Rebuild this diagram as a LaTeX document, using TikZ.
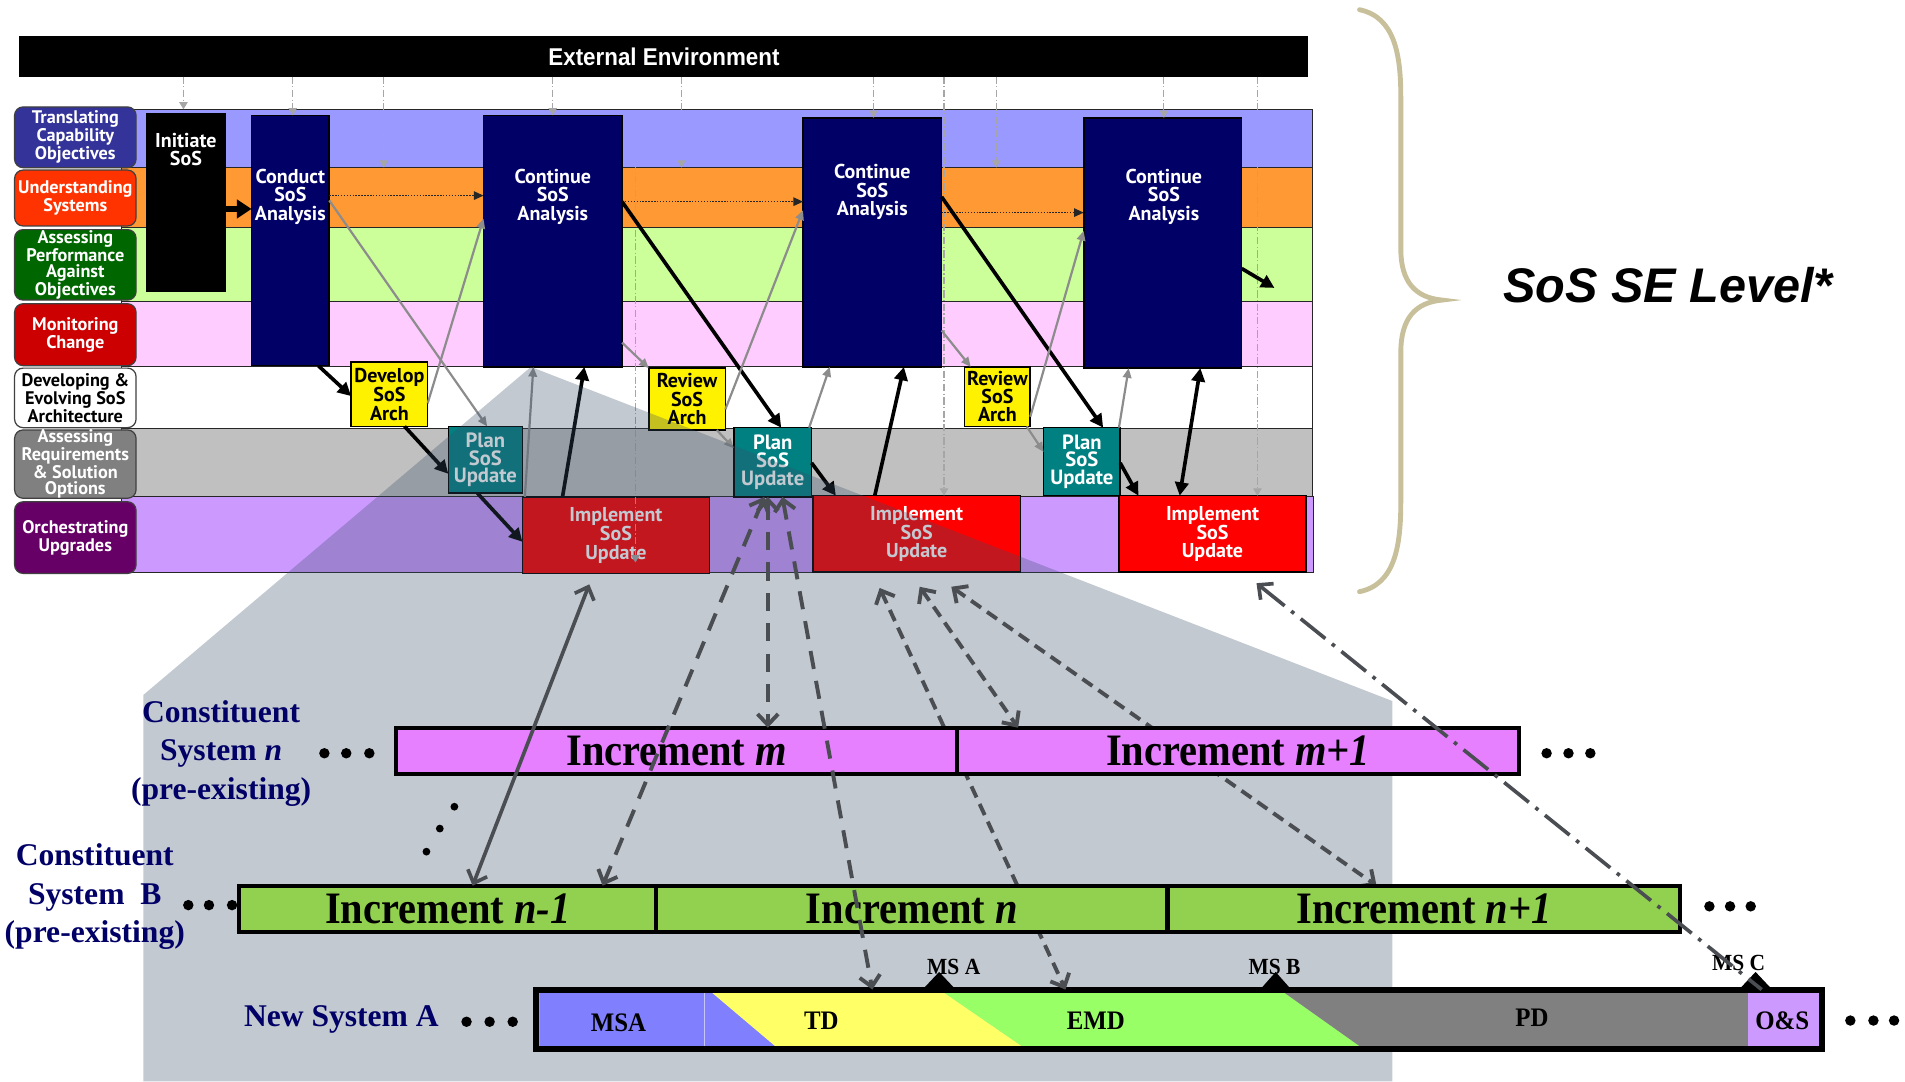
\documentclass[tikz,border=0pt]{standalone}
\usepackage{fontspec}
\usetikzlibrary{arrows.meta}
\newfontfamily\boxfont{PT Sans}
\newfontfamily\extfont[FakeStretch=0.92]{Liberation Sans}
\newfontfamily\levelfont{Liberation Sans}
\newfontfamily\sysfont{Liberation Serif}
\newfontfamily\incfont[FakeStretch=0.9]{Liberation Serif}
\newfontfamily\segfont[FakeStretch=0.93]{Liberation Serif}

\definecolor{laneA}{HTML}{9999FF}
\definecolor{laneB}{HTML}{FF9933}
\definecolor{laneC}{HTML}{CCFF99}
\definecolor{laneD}{HTML}{FFCCFF}
\definecolor{laneF}{HTML}{C0C0C0}
\definecolor{laneG}{HTML}{CC99FF}
\definecolor{labA}{HTML}{333399}
\definecolor{labB}{HTML}{FF3300}
\definecolor{labC}{HTML}{006600}
\definecolor{labD}{HTML}{CC0000}
\definecolor{labF}{HTML}{808080}
\definecolor{labG}{HTML}{660066}
\definecolor{navybox}{HTML}{000066}
\definecolor{tealbox}{HTML}{008080}
\definecolor{incpink}{HTML}{E680FF}
\definecolor{incgreen}{HTML}{92D050}
\definecolor{msablue}{HTML}{8080FF}
\definecolor{tdyellow}{HTML}{FFFF66}
\definecolor{emdgreen}{HTML}{99FF66}
\definecolor{pdgray}{HTML}{808080}
\definecolor{oslav}{HTML}{CC99FF}
\definecolor{veilcol}{RGB}{58,78,105}
\definecolor{linkgray}{HTML}{4A4D52}
\definecolor{thingray}{HTML}{8C8C8C}
\definecolor{bracetan}{RGB}{200,192,155}
\definecolor{sysnavy}{HTML}{000066}

% box from (x1,y1) to (x2,y2): name, style, x1, y1, x2, y2, text
\newcommand{\areabox}[7]{%
  \node[#2, minimum width={#5-#3}, minimum height={#6-#4}] (#1) at ({(#3+#5)/2},{(#4+#6)/2}) {#7};}

\tikzset{
  envbar/.style={fill=black, inner sep=0, outer sep=0, text=white,
    font=\extfont\bfseries\fontsize{20}{20}\selectfont},
  lanestrip/.style={draw=black!85, line width=0.8pt, inner sep=0, outer sep=0},
  lanelabel/.style={draw=black!75, line width=1pt, rounded corners=7pt, inner sep=0,
    outer sep=0, align=center, text=white,
    font=\boxfont\bfseries\fontsize{15}{13}\selectfont},
  stepbox/.style={draw=black, line width=1.3pt, inner sep=0, outer sep=0, align=center,
    font=\boxfont\bfseries\fontsize{16.5}{15}\selectfont},
  boxtext/.style={text=white, align=center, inner sep=0,
    font=\boxfont\bfseries\fontsize{16.5}{15}\selectfont},
  plantext/.style={text=white, font=\boxfont\bfseries\fontsize{17}{14.5}\selectfont},
  envlink/.style={draw=gray!70, line width=0.9pt,
    dash pattern=on 6pt off 2pt on 1pt off 2pt,
    -{Triangle[length=6pt,width=7pt,fill=gray!70]}},
  dotlink/.style={draw=black!85, line width=1.2pt, dash pattern=on 1.2pt off 1.2pt,
    -{Triangle[length=8pt,width=7pt]}},
  bigarrow/.style={draw=black, line width=5pt, -{Triangle[length=12pt,width=15pt]}},
  thicklink/.style={draw=black, line width=3pt, -{Triangle[length=11pt,width=11pt]}},
  graylink/.style={draw=thingray, line width=1.8pt, -{Triangle[length=8pt,width=7pt]}},
  lowtip/.tip={Straight Barb[length=9pt,width=17pt]},
  solidlink/.style={draw=linkgray, line width=3pt, lowtip-lowtip},
  dashlong/.style={draw=linkgray, line width=3.2pt, dash pattern=on 15pt off 10pt,
    lowtip-lowtip},
  dashshort/.style={draw=linkgray, line width=3.2pt, dash pattern=on 10pt off 6pt,
    lowtip-lowtip},
  dashdot/.style={draw=linkgray, line width=3pt,
    dash pattern=on 26pt off 7pt on 3pt off 7pt, lowtip-},
  incbar/.style={draw=black, line width=3.5pt, inner sep=0, outer sep=0,
    font=\incfont\bfseries\fontsize{37}{37}\selectfont},
  sysbar/.style={draw=black, line width=5pt, inner sep=0, outer sep=0},
  syslabel/.style={text=sysnavy, align=center, inner sep=0,
    font=\sysfont\bfseries\fontsize{26}{31.5}\selectfont},
  seglabel/.style={inner sep=0, font=\segfont\bfseries\fontsize{22}{22}\selectfont},
  mslabel/.style={inner sep=0, font=\segfont\bfseries\fontsize{19}{19}\selectfont},
}

\begin{document}
\begin{tikzpicture}[x=1pt,y=-1pt]
\useasboundingbox (0,0) rectangle (1568,890);
\fill[white] (0,0) rectangle (1568,890);

% ---------------- SoS SE level ----------------
\areabox{ext}{envbar}{16}{30}{1077}{63}{External Environment}

% swim lanes
\areabox{lane1}{lanestrip,fill=laneA}{100}{90}{1080}{138}{}
\areabox{lane2}{lanestrip,fill=laneB}{100}{138}{1080}{187}{}
\areabox{lane3}{lanestrip,fill=laneC}{100}{187}{1080}{248}{}
\areabox{lane4}{lanestrip,fill=laneD}{100}{248}{1080}{302}{}
\areabox{lane5}{lanestrip,fill=white}{100}{302}{1080}{353}{}
\areabox{lane6}{lanestrip,fill=laneF}{100}{353}{1080}{409}{}
\areabox{lane7}{lanestrip,fill=laneG}{100}{409}{1081}{471}{}

% lane titles
\areabox{lab1}{lanelabel,fill=labA}{12}{88}{112}{138}{Translating\\Capability\\Objectives}
\areabox{lab2}{lanelabel,fill=labB}{12}{140}{112}{186}{Understanding\\Systems}
\areabox{lab3}{lanelabel,fill=labC}{12}{189}{112}{247}{Assessing\\Performance\\Against\\Objectives}
\areabox{lab4}{lanelabel,fill=labD}{12}{250}{112}{301}{Monitoring\\Change}
\areabox{lab5}{lanelabel,fill=white,text=black}{12}{303}{112}{352}{Developing \&\\Evolving SoS\\Architecture}
\areabox{lab6}{lanelabel,fill=labF}{12}{355}{112}{409}{Assessing\\Requirements\\\& Solution\\Options}
\areabox{lab7}{lanelabel,fill=labG}{12}{413}{112}{472}{Orchestrating\\Upgrades}

% activity boxes
\areabox{init}{stepbox,fill=black}{121}{94}{185}{240}{}
\areabox{conduct}{stepbox,fill=navybox}{207}{95}{271}{301}{}
\areabox{cont1}{stepbox,fill=navybox}{398}{95}{512}{302}{}
\areabox{cont2}{stepbox,fill=navybox}{661}{97}{775}{302}{}
\areabox{cont3}{stepbox,fill=navybox}{892}{97}{1022}{303}{}
\areabox{develop}{stepbox,fill=yellow}{289}{298}{352}{351}{Develop\\SoS\\Arch}
\areabox{review1}{stepbox,fill=yellow}{534}{303}{597}{354}{Review\\SoS\\Arch}
\areabox{review2}{stepbox,fill=yellow}{794}{302}{848}{351}{Review\\SoS\\Arch}
\areabox{plan1}{stepbox,fill=tealbox,plantext}{369}{351}{430}{406}{Plan\\SoS\\Update}
\areabox{plan2}{stepbox,fill=tealbox,plantext}{604}{352}{668}{409}{Plan\\SoS\\Update}
\areabox{plan3}{stepbox,fill=tealbox,plantext}{859}{352}{922}{408}{Plan\\SoS\\Update}
\areabox{impl1}{stepbox,fill=red,text=white}{430}{409}{584}{472}{Implement\\SoS\\Update}
\areabox{impl2}{stepbox,fill=red,text=white}{669}{408}{840}{471}{Implement\\SoS\\Update}
\areabox{impl3}{stepbox,fill=red,text=white}{921}{408}{1075}{471}{Implement\\SoS\\Update}

\node[boxtext] (initT) at (153,123) {Initiate\\SoS};
\node[boxtext] (conductT) at (239,162) {Conduct\\SoS\\Analysis};
\node[boxtext] (cont1T) at (455,162) {Continue\\SoS\\Analysis};
\node[boxtext] (cont2T) at (718,158) {Continue\\SoS\\Analysis};
\node[boxtext] (cont3T) at (958,162) {Continue\\SoS\\Analysis};

% influences from the external environment
\foreach \xx/\tgt in {151/lane1, 241/conduct, 316/lane2, 455/cont1, 561/lane2,
                      719/cont2, 777/impl2, 820/lane2, 958/cont3, 1035/impl3}
  \draw[envlink] (ext.south -| \xx,0) -- (\tgt.north -| \xx,0);
\coordinate (guideTop) at (523,123);
\coordinate (guideEnd) at (523,463);
\draw[envlink] (guideTop) -- (guideEnd);

% understanding-systems flow
\draw[dotlink] (conduct.east |- 0,161) -- (cont1.west |- 0,161);
\draw[dotlink] (cont1.east |- 0,166) -- (cont2.west |- 0,166);
\draw[dotlink] (cont2.east |- 0,175) -- (cont3.west |- 0,175);
\draw[bigarrow] (init.east |- 0,172) -- (conduct.west |- 0,172);

% main process flow
\draw[thicklink] (conduct.south -| 262,0) -- (develop.west |- 0,326);
\draw[thicklink] (develop.south -| 333,0) -- (plan1.west |- 0,390);
\draw[thicklink] (plan1.south -| 393,0) -- (impl1.west |- 0,446);
\draw[thicklink] (impl1.north -| 463,0) -- (cont1.south -| 481,0);
\draw[thicklink] (cont1.east |- 0,166) -- (plan2.north -| 643,0);
\draw[thicklink] (plan2.east |- 0,381) -- (impl2.north -| 688,0);
\draw[thicklink] (impl2.north -| 720,0) -- (cont2.south -| 744,0);
\draw[thicklink] (cont2.east |- 0,162) -- (plan3.north -| 908,0);
\draw[thicklink] (plan3.east |- 0,381) -- (impl3.north -| 937,0);
\draw[thicklink, {Triangle[length=11pt,width=11pt]}-{Triangle[length=11pt,width=11pt]}]
  (impl3.north -| 971,0) -- (cont3.south -| 988,0);
\coordinate (c3out) at (1049,237);
\draw[thicklink] (cont3.east |- 0,221) -- (c3out);

% secondary flows
\draw[graylink] (conduct.east |- 0,165) -- (plan1.north -| 401,0);
\draw[graylink] (develop.east |- 0,332) -- (cont1.west |- 0,180);
\draw[graylink] (impl1.north -| 432,0) -- (cont1.south -| 439,0);
\draw[graylink] (cont1.east |- 0,282) -- (review1.north west);
\draw[graylink] (review1.south -| 590,0) -- (plan2.west |- 0,369);
\draw[graylink] (review1.east |- 0,337) -- (cont2.west |- 0,173);
\draw[graylink] (plan2.north -| 666,0) -- (cont2.south -| 683,0);
\draw[graylink] (cont2.east |- 0,272) -- (review2.north -| 799,0);
\draw[graylink] (review2.south -| 845,0) -- (plan3.west |- 0,372);
\draw[graylink] (review2.east |- 0,343) -- (cont3.west |- 0,190);
\draw[graylink] (plan3.north -| 921,0) -- (cont3.south -| 929,0);

% ---------------- projection onto constituent systems ----------------
\fill[veilcol, fill opacity=0.3] (437,302) -- (118,572) -- (118,890) -- (1146,890)
  -- (1146,577) -- cycle;

% new system life cycle
\fill[msablue] (444,817) -- (586,817) -- (638,861) -- (444,861) -- cycle;
\draw[white!55!msablue, line width=0.6pt] (580,817) -- (580,861);
\fill[tdyellow] (586,817) -- (777,817) -- (841,861) -- (638,861) -- cycle;
\fill[emdgreen] (777,817) -- (1057,817) -- (1119,861) -- (841,861) -- cycle;
\fill[pdgray] (1057,817) -- (1439,817) -- (1439,861) -- (1119,861) -- cycle;
\fill[oslav] (1439,817) rectangle (1498,861);
\areabox{newsys}{sysbar}{441.5}{814.5}{1499.5}{863.5}{}
\node[seglabel] (msaT) at (509,842) {MSA};
\node[seglabel] (tdT) at (676,840) {TD};
\node[seglabel] (emdT) at (902,840) {EMD};
\node[seglabel] (pdT) at (1261,838) {PD};
\node[seglabel] (osT) at (1467,840) {O\&S};

% links that pass behind the increment bars
\coordinate (nextIncTop) at (1133,729);
\draw[dashshort, shorten <=14.3pt] (impl2.south -| 718,0) -- (newsys.north -| 877,0);
\draw[dashshort, shorten <=20.8pt] (impl2.south -| 766,0) -- (nextIncTop);

% constituent increments
\areabox{incm}{incbar,fill=incpink}{326}{599}{788}{637}{Increment \textit{m}}
\areabox{incmp}{incbar,fill=incpink}{788}{599}{1250}{637}{Increment \textit{m+1}}
\areabox{incn1}{incbar,fill=incgreen}{197}{729}{540}{767}{Increment \textit{n-1}}
\areabox{incn}{incbar,fill=incgreen}{540}{729}{961}{767}{Increment \textit{n}}
\areabox{incnp}{incbar,fill=incgreen}{961}{729}{1383}{767}{Increment \textit{n+1}}

\node[syslabel] (sysN) at (182,620) {Constituent\\System \textit{n}\\(pre-existing)};
\node[syslabel] (sysB) at (78,738) {Constituent\\System\ \ B\\(pre-existing)};
\node[syslabel] (sysA) at (281,839) {New System A};

% continuation dots
\foreach \px/\py in {267/620, 285/620, 304/620, 1273/620, 1291/620, 1309/620,
                     155/745, 172/745, 191/745, 1407/746, 1424/746, 1441/746,
                     384/841, 403/841, 422/841, 1523/840, 1542/840, 1559/840}
  \fill (\px,\py) circle (4.3);
\foreach \px/\py in {374/664, 362/682, 351/701}
  \fill (\px,\py) circle (3.2);

% milestones
\fill (773,800) -- (757,817) -- (789,817) -- cycle;
\fill (1050,800) -- (1035,817) -- (1065,817) -- cycle;
\fill (1445,800) -- (1429,817) -- (1461,817) -- cycle;
\node[mslabel] (msA) at (785,796) {MS A};
\node[mslabel] (msB) at (1049,796) {MS B};
\node[mslabel] (msC) at (1431,793) {MS C};

% links between levels
\draw[solidlink, shorten >=9.6pt] (incn1.north -| 389,0) -- (impl1.south -| 488.5,0);
\draw[dashlong] (plan2.south -| 629,0) -- (incn1.north -| 496,0);
\draw[dashlong] (plan2.south -| 632,0) -- (incm.north -| 632,0);
\draw[dashlong] (plan2.south -| 644,0) -- (newsys.north -| 718,0);
\draw[dashshort, shorten <=14.6pt] (impl2.south -| 748.6,0) -- (incmp.north -| 838,0);
\draw[dashdot, shorten <=14.4pt] (impl3.south -| 1023,0) -- (newsys.north -| 1450,0);

% ---------------- level brace ----------------
\draw[bracetan, line width=4pt, line cap=round]
  (1119,8) .. controls (1148,14) and (1153,45) .. (1153,80) -- (1153,205)
  .. controls (1153,232) and (1165,245) .. (1187,247)
  .. controls (1165,249) and (1153,262) .. (1153,290) -- (1153,413)
  .. controls (1153,450) and (1148,481) .. (1119,487);
\node[inner sep=0, font=\levelfont\bfseries\itshape\fontsize{40}{40}\selectfont]
  (level) at (1373,235) {SoS SE Level*};
\end{tikzpicture}
\end{document}
